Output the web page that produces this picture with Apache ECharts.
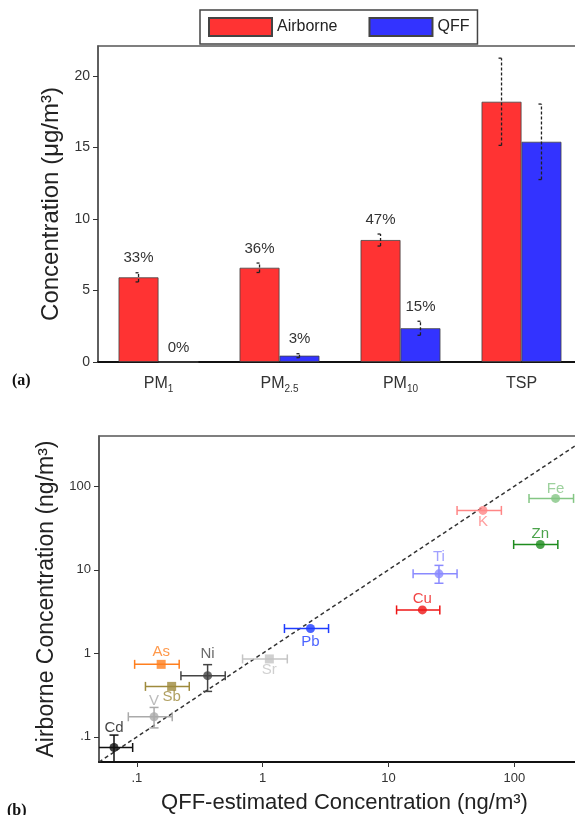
<!DOCTYPE html>
<html><head><meta charset="utf-8">
<script src="https://cdn.jsdelivr.net/npm/echarts@6/dist/echarts.min.js"></script>
<style>html,body{margin:0;padding:0;background:#fff}#c{width:575px;height:815px}</style>
</head><body><div id="c"></div>
<script>
// ---------- panel (a) data ----------
const categories = ['PM1', 'PM2.5', 'PM10', 'TSP'];
const airborne = [5.92, 6.59, 8.53, 18.2];
const airborneErr = [0.32, 0.33, 0.42, 3.05];
const qff = [0, 0.44, 2.36, 15.4];
const qffErr = [0, 0.14, 0.49, 2.64];
const airborneLabels = ['33%', '36%', '47%', ''];
const qffLabels = ['0%', '3%', '15%', ''];
const yTicksA = [0, 5, 10, 15, 20];

// ---------- panel (b) data ----------
const elements = ['Cd', 'V', 'Sb', 'As', 'Ni', 'Sr', 'Pb', 'Cu', 'Ti', 'K', 'Fe', 'Zn'];
const qffEst  = [0.0658, 0.137, 0.189, 0.156, 0.365, 1.13, 2.40, 18.6, 25.2, 56.4, 213, 161];
const qffLow  = [0.045, 0.0855, 0.117, 0.096, 0.224, 0.692, 1.49, 11.6, 15.7, 35.1, 131, 98.9];
const qffHigh = [0.0926, 0.191, 0.261, 0.217, 0.504, 1.57, 3.34, 25.6, 35.1, 79.0, 296, 222];
const airConc = [0.0746, 0.174, 0.402, 0.738, 0.540, 0.857, 1.98, 3.31, 8.95, 51.4, 71.6, 20.1];
const airLow  = [0.04, 0.128, null, null, 0.350, null, null, null, 6.9, null, null, null];
const airHigh = [0.105, 0.225, null, null, 0.732, null, null, null, 11.3, null, null, null];
const logTicks = [0.1, 1, 10, 100];
const logTickLabels = ['.1', '1', '10', '100'];
const oneToOne = [0.05, 400];

// ---------- styles ----------
const FONT = '"Liberation Sans", Arial, sans-serif';
const RED = '#FF3333', BLUE = '#3333FF';
const elemStyle = {
  Cd: {color: '#111111', symbol: 'circle', pos: 'top', dist: 7.5},
  V:  {color: '#AAAAAA', symbol: 'circle', pos: 'top', dist: 3.5},
  Sb: {color: '#9E8A3C', symbol: 'rect', pos: 'bottom', dist: -1.5},
  As: {color: '#FF7F1E', symbol: 'rect', pos: 'top', dist: 0},
  Ni: {color: '#444444', symbol: 'circle', pos: 'top', dist: 9.5},
  Sr: {color: '#C4C4C4', symbol: 'rect', pos: 'bottom', dist: -1.5},
  Pb: {color: '#1E3CFF', symbol: 'circle', pos: 'bottom', dist: 1},
  Cu: {color: '#EE1515', symbol: 'circle', pos: 'top', dist: -0.5},
  Ti: {color: '#8A8AFF', symbol: 'circle', pos: 'top', dist: 5},
  K:  {color: '#FF8686', symbol: 'circle', pos: 'bottom', dist: -1},
  Fe: {color: '#84C684', symbol: 'circle', pos: 'top', dist: -2},
  Zn: {color: '#1E8C1E', symbol: 'circle', pos: 'top', dist: -1}
};

function logLabel(v) {
  const k = logTicks.findIndex(t => Math.abs(Math.log10(v) - Math.log10(t)) < 1e-6);
  return k >= 0 ? logTickLabels[k] : '';
}

function barErrorSeries(values, errs, labels, side) {
  return {
    type: 'custom', xAxisIndex: 0, yAxisIndex: 0, z: 10, silent: true, clip: false,
    data: values.map((v, i) => [i, v]),
    renderItem(params, api) {
      const i = params.dataIndex;
      const base = api.coord([i, values[i]]);
      const lo = api.coord([i, values[i] - errs[i]]);
      const hi = api.coord([i, values[i] + errs[i]]);
      const bw = api.size([1, 0])[0] * 0.33;
      const x = base[0] + side * bw / 2;
      const children = [];
      if (errs[i] > 0) {
        const st = {stroke: '#222', lineWidth: 1.3, lineDash: [3, 2]};
        children.push({type: 'line', shape: {x1: x, y1: lo[1], x2: x, y2: hi[1]}, style: st});
        children.push({type: 'line', shape: {x1: x - 3, y1: hi[1], x2: x, y2: hi[1]}, style: {stroke: '#222', lineWidth: 1.3}});
        children.push({type: 'line', shape: {x1: x - 3, y1: lo[1], x2: x, y2: lo[1]}, style: {stroke: '#222', lineWidth: 1.3}});
      }
      if (labels[i]) {
        children.push({type: 'text', style: {text: labels[i], x: x, y: hi[1] - 7, align: 'center', verticalAlign: 'bottom',
          font: '15px ' + FONT, fill: '#333'}});
      }
      return {type: 'group', children};
    }
  };
}

const chart = echarts.init(document.getElementById('c'), null, {renderer: 'canvas'});
const scatterData = elements.map((e, i) => {
  const s = elemStyle[e];
  return {
    name: e, value: [qffEst[i], airConc[i]], symbol: s.symbol,
    itemStyle: {color: s.color},
    label: {show: true, formatter: e, position: s.pos, distance: s.dist, color: s.color, fontSize: 15, fontFamily: FONT}
  };
});

chart.setOption({
  animation: false,
  textStyle: {fontFamily: FONT},
  legend: {
    data: ['Airborne', 'QFF'], left: 200, top: 10, itemWidth: 63, itemHeight: 18, itemGap: 31,
    padding: [7, 8], borderColor: '#444', borderWidth: 1.5, icon: 'rect',
    textStyle: {fontSize: 16, color: '#222', fontFamily: FONT}
  },
  graphic: [
    {type: 'text', left: 12, top: 373, style: {text: '(a)', font: 'bold 16px "Liberation Serif", serif', fill: '#111'}},
    {type: 'text', left: 7, top: 803, style: {text: '(b)', font: 'bold 16px "Liberation Serif", serif', fill: '#111'}}
  ],
  grid: [
    {left: 98, top: 46, width: 484, height: 316, show: true, borderColor: '#555', borderWidth: 1.5, outerBoundsMode: 'none'},
    {left: 99, top: 436, width: 491, height: 326, show: true, borderColor: '#555', borderWidth: 1.5, outerBoundsMode: 'none'}
  ],
  xAxis: [
    {
      type: 'category', gridIndex: 0, data: categories,
      axisLine: {lineStyle: {color: '#111', width: 2}}, axisTick: {show: false},
      axisLabel: {
        margin: 12, color: '#333', fontSize: 16, lineHeight: 20,
        formatter: v => v.startsWith('PM') ? 'PM{s|' + v.slice(2) + '}' : v,
        rich: {s: {fontSize: 10, lineHeight: 20, verticalAlign: 'bottom', color: '#333'}}
      }
    },
    {
      type: 'log', gridIndex: 1, logBase: 10, min: 0.05, max: 400,
      axisLine: {lineStyle: {color: '#111', width: 2}},
      axisTick: {show: true, length: 5, lineStyle: {color: '#333'}, customValues: logTicks},
      axisLabel: {color: '#333', fontSize: 13, margin: 10, formatter: logLabel, customValues: logTicks},
      splitLine: {show: false},
      name: 'QFF-estimated Concentration (ng/m³)', nameLocation: 'middle', nameGap: 30,
      nameTextStyle: {fontSize: 22, color: '#222'}
    }
  ],
  yAxis: [
    {
      type: 'value', gridIndex: 0, min: 0, max: 22.1,
      axisLine: {show: true, lineStyle: {color: '#555', width: 1.5}},
      axisTick: {show: true, length: 5, lineStyle: {color: '#333'}, customValues: yTicksA},
      axisLabel: {color: '#333', fontSize: 14, margin: 8, customValues: yTicksA},
      splitLine: {show: false},
      name: 'Concentration (μg/m³)', nameLocation: 'middle', nameGap: 31,
      nameTextStyle: {fontSize: 24, color: '#222'}
    },
    {
      type: 'log', gridIndex: 1, logBase: 10, min: 0.05, max: 400,
      axisLine: {show: true, lineStyle: {color: '#555', width: 1.5}},
      axisTick: {show: true, length: 5, lineStyle: {color: '#333'}, customValues: logTicks},
      axisLabel: {color: '#333', fontSize: 13, margin: 8, formatter: logLabel, customValues: logTicks},
      splitLine: {show: false},
      name: 'Airborne Concentration (ng/m³)', nameLocation: 'middle', nameGap: 31,
      nameTextStyle: {fontSize: 23, color: '#222'}
    }
  ],
  series: [
    {name: 'Airborne', type: 'bar', xAxisIndex: 0, yAxisIndex: 0, data: airborne, barWidth: '33%', barGap: '0%',
      itemStyle: {color: RED, borderColor: '#444', borderWidth: 0.8}},
    {name: 'QFF', type: 'bar', xAxisIndex: 0, yAxisIndex: 0, data: qff, barWidth: '33%', barGap: '0%',
      itemStyle: {color: BLUE, borderColor: '#444', borderWidth: 0.8}},
    barErrorSeries(airborne, airborneErr, airborneLabels, -1),
    barErrorSeries(qff, qffErr, qffLabels, 1),
    {
      type: 'line', xAxisIndex: 1, yAxisIndex: 1, data: [[oneToOne[0], oneToOne[0]], [oneToOne[1], oneToOne[1]]],
      symbol: 'none', silent: true, lineStyle: {color: '#333', width: 1.5, type: [4, 3]}, z: 1
    },
    {
      type: 'custom', xAxisIndex: 1, yAxisIndex: 1, clip: true, silent: true, z: 2,
      data: elements.map((e, i) => [qffEst[i], airConc[i]]),
      renderItem(params, api) {
        const i = params.dataIndex;
        const c = elemStyle[elements[i]].color;
        const st = {stroke: c, lineWidth: 1.5};
        const p = api.coord([qffEst[i], airConc[i]]);
        const l = api.coord([qffLow[i], airConc[i]]);
        const h = api.coord([qffHigh[i], airConc[i]]);
        const cap = 4.5;
        const ch = [
          {type: 'line', shape: {x1: l[0], y1: p[1], x2: h[0], y2: p[1]}, style: st},
          {type: 'line', shape: {x1: l[0], y1: p[1] - cap, x2: l[0], y2: p[1] + cap}, style: st},
          {type: 'line', shape: {x1: h[0], y1: p[1] - cap, x2: h[0], y2: p[1] + cap}, style: st}
        ];
        if (airLow[i] != null) {
          const lo = api.coord([qffEst[i], airLow[i]]);
          const hi = api.coord([qffEst[i], airHigh[i]]);
          ch.push({type: 'line', shape: {x1: p[0], y1: lo[1], x2: p[0], y2: hi[1]}, style: st});
          ch.push({type: 'line', shape: {x1: p[0] - cap, y1: lo[1], x2: p[0] + cap, y2: lo[1]}, style: st});
          ch.push({type: 'line', shape: {x1: p[0] - cap, y1: hi[1], x2: p[0] + cap, y2: hi[1]}, style: st});
        }
        return {type: 'group', children: ch};
      }
    },
    {
      type: 'scatter', xAxisIndex: 1, yAxisIndex: 1, symbolSize: 9, z: 3, data: scatterData
    }
  ]
});
</script></body></html>
